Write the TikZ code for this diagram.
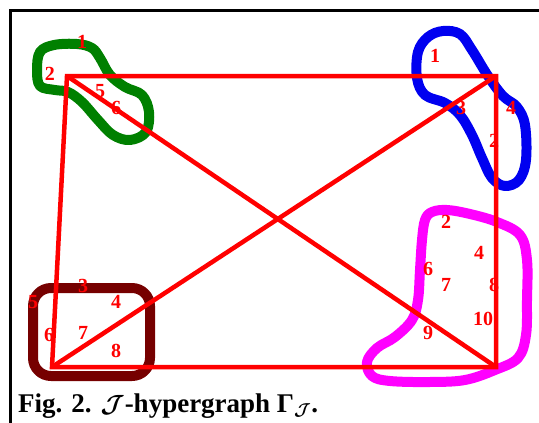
\documentclass[tikz,border=0pt]{standalone}
\usepackage{amsmath}
\usepackage{fontspec}
\setmainfont{Liberation Serif}
\definecolor{hgreen}{RGB}{0,128,0}
\definecolor{hblue}{RGB}{0,0,240}
\definecolor{hbrown}{RGB}{118,0,0}
\definecolor{hmag}{RGB}{255,0,255}
\begin{document}
\begin{tikzpicture}[x=1pt,y=-1pt,
  edge/.style={red,line width=4.5pt,line join=miter},
  blob/.style={line width=10pt,line join=round},
  lab/.style={text=red,font=\fontsize{20}{20}\selectfont\bfseries,inner sep=0pt}]
\useasboundingbox (0,0) rectangle (539,423);
% frame
\draw[line width=3pt] (10,423) -- (10,10) -- (539,10);
% blobs
\draw[blob,hgreen] plot[smooth cycle,tension=0.6] coordinates {(40,52) (54,45) (77,44) (92,48) (100,58) (110,75) (125,87) (142,95) (149,112) (146,132) (130,140) (113,135) (98,120) (82,102) (68,92) (55,90) (40,86) (37,70)};
\draw[blob,hblue] plot[smooth cycle,tension=0.6] coordinates {(443,31) (428,37) (418,52) (417,78) (425,95) (445,103) (460,115) (472,135) (482,158) (492,178) (505,186) (519,180) (526,160) (525,125) (517,107) (503,96) (488,76) (472,50) (460,34)};
\draw[blob,hmag] plot[smooth cycle,tension=0.6] coordinates {(432,212) (447,210) (470,214) (497,222) (520,235) (527,260) (527,300) (526,335) (518,358) (495,370) (465,380) (430,382) (390,381) (372,376) (367,362) (377,348) (395,337) (412,320) (418,300) (420,270) (422,240) (425,220)};
\draw[blob,hbrown,rounded corners=18pt] (33,288) rectangle (150,376);
% vertices
\coordinate (A) at (67,76);
\coordinate (B) at (496,76);
\coordinate (C) at (52,367);
\coordinate (D) at (496,367);
\draw[edge] (C) -- (A) -- (B) -- (D) -- cycle;
\draw[edge] (A) -- (D);
\draw[edge] (C) -- (B);
% green labels
\node[lab] (g1) at (82,42) {1};
\node[lab] (g2) at (50,74) {2};
\node[lab] (g5) at (100,91) {5};
\node[lab] (g6) at (116,108) {6};
% blue labels
\node[lab] (b1) at (435,56) {1};
\node[lab] (b3) at (461,108) {3};
\node[lab] (b4) at (511,108) {4};
\node[lab] (b2) at (494,141) {2};
% brown labels
\node[lab] (r3) at (83,286) {3};
\node[lab] (r5) at (33,302) {5};
\node[lab] (r4) at (116,302) {4};
\node[lab] (r6) at (49,335) {6};
\node[lab] (r7) at (83,333) {7};
\node[lab] (r8) at (116,351) {8};
% magenta labels
\node[lab] (m2) at (446,222) {2};
\node[lab] (m4) at (479,253) {4};
\node[lab] (m6) at (428,269) {6};
\node[lab] (m7) at (446,285) {7};
\node[lab] (m8) at (494,285) {8};
\node[lab] (m10) at (483,319) {10};
\node[lab] (m9) at (428,333) {9};
% caption
\node[anchor=base west,inner sep=0pt,font=\fontsize{27}{27}\selectfont\bfseries] (cap) at (18,412) {Fig. 2. $\boldsymbol{\mathcal{J}}$-hypergraph Γ$_{\boldsymbol{\mathcal{J}}}$.};
\end{tikzpicture}
\end{document}
